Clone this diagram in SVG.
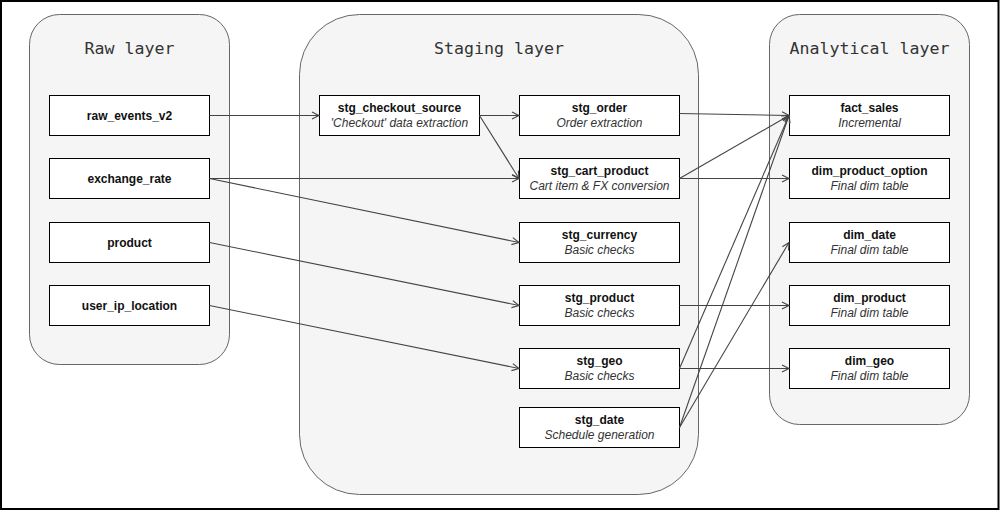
<svg xmlns="http://www.w3.org/2000/svg" width="1000" height="511" viewBox="0 0 1000 511">
<style>
.frame{fill:#fff;stroke:#000;stroke-width:2}
.layer{fill:#f5f5f5;stroke:#666;stroke-width:1}
.title{font-family:"DejaVu Sans Mono",monospace;font-size:16.6px;fill:#333;text-anchor:middle}
.box{fill:#fff;stroke:#000;stroke-width:1}
.name{font-family:"Liberation Sans",Arial,sans-serif;font-size:12px;font-weight:bold;fill:#111;text-anchor:middle}
.desc{font-family:"Liberation Sans",Arial,sans-serif;font-size:12px;font-style:italic;fill:#333;text-anchor:middle}
.edge{fill:none;stroke:#444;stroke-width:1.1;marker-end:url(#arr)}
</style>
<defs>
<marker id="arr" markerUnits="userSpaceOnUse" markerWidth="12" markerHeight="12" viewBox="-10 -6 12 12" refX="0" refY="0" orient="auto">
<path d="M-7,-3.6 L0,0 L-7,3.6" fill="none" stroke="#444" stroke-width="1.1"/>
</marker>
</defs>
<rect class="frame" x="1" y="1" width="997.5" height="508"/>
<g id="raw-layer">
<rect class="layer" x="29.5" y="14.5" width="200" height="350" rx="30" ry="30"/>
<text class="title" x="129.5" y="54">Raw layer</text>
</g>
<g id="staging-layer">
<rect class="layer" x="299.5" y="14.5" width="399" height="480" rx="60" ry="60"/>
<text class="title" x="499" y="54">Staging layer</text>
</g>
<g id="analytical-layer">
<rect class="layer" x="769.5" y="14.5" width="200" height="410" rx="30" ry="30"/>
<text class="title" x="869.5" y="54">Analytical layer</text>
</g>
<g id="raw_events_v2"><rect class="box" x="49.5" y="95.5" width="160" height="40"/><text class="name" x="129.5" y="119.5">raw_events_v2</text></g>
<g id="exchange_rate"><rect class="box" x="49.5" y="158.5" width="160" height="40"/><text class="name" x="129.5" y="182.5">exchange_rate</text></g>
<g id="product"><rect class="box" x="49.5" y="222.5" width="160" height="40"/><text class="name" x="129.5" y="246.5">product</text></g>
<g id="user_ip_location"><rect class="box" x="49.5" y="285.5" width="160" height="40"/><text class="name" x="129.5" y="309.5">user_ip_location</text></g>
<g id="stg_checkout_source"><rect class="box" x="319.5" y="95.5" width="160" height="40"/><text class="name" x="399.5" y="112">stg_checkout_source</text><text class="desc" x="399.5" y="127">'Checkout' data extraction</text></g>
<g id="stg_order"><rect class="box" x="519.5" y="95.5" width="160" height="40"/><text class="name" x="599.5" y="112">stg_order</text><text class="desc" x="599.5" y="127">Order extraction</text></g>
<g id="stg_cart_product"><rect class="box" x="519.5" y="158.5" width="160" height="40"/><text class="name" x="599.5" y="175">stg_cart_product</text><text class="desc" x="599.5" y="190">Cart item &amp; FX conversion</text></g>
<g id="stg_currency"><rect class="box" x="519.5" y="222.5" width="160" height="40"/><text class="name" x="599.5" y="239">stg_currency</text><text class="desc" x="599.5" y="254">Basic checks</text></g>
<g id="stg_product"><rect class="box" x="519.5" y="285.5" width="160" height="40"/><text class="name" x="599.5" y="302">stg_product</text><text class="desc" x="599.5" y="317">Basic checks</text></g>
<g id="stg_geo"><rect class="box" x="519.5" y="348.5" width="160" height="40"/><text class="name" x="599.5" y="365">stg_geo</text><text class="desc" x="599.5" y="380">Basic checks</text></g>
<g id="stg_date"><rect class="box" x="519.5" y="407.5" width="160" height="40"/><text class="name" x="599.5" y="424">stg_date</text><text class="desc" x="599.5" y="439">Schedule generation</text></g>
<g id="fact_sales"><rect class="box" x="789.5" y="95.5" width="160" height="40"/><text class="name" x="869.5" y="112">fact_sales</text><text class="desc" x="869.5" y="127">Incremental</text></g>
<g id="dim_product_option"><rect class="box" x="789.5" y="158.5" width="160" height="40"/><text class="name" x="869.5" y="175">dim_product_option</text><text class="desc" x="869.5" y="190">Final dim table</text></g>
<g id="dim_date"><rect class="box" x="789.5" y="222.5" width="160" height="40"/><text class="name" x="869.5" y="239">dim_date</text><text class="desc" x="869.5" y="254">Final dim table</text></g>
<g id="dim_product"><rect class="box" x="789.5" y="285.5" width="160" height="40"/><text class="name" x="869.5" y="302">dim_product</text><text class="desc" x="869.5" y="317">Final dim table</text></g>
<g id="dim_geo"><rect class="box" x="789.5" y="348.5" width="160" height="40"/><text class="name" x="869.5" y="365">dim_geo</text><text class="desc" x="869.5" y="380">Final dim table</text></g>
<g id="connectors">
<path class="edge" d="M209.5,115.5 L319,115.5"/>
<path class="edge" d="M209.5,178.5 L519,178.5"/>
<path class="edge" d="M209.5,178.5 L519,242.5"/>
<path class="edge" d="M209.5,242.5 L519,305.5"/>
<path class="edge" d="M209.5,305.5 L519,368.5"/>
<path class="edge" d="M479.5,115.5 L519,115.5"/>
<path class="edge" d="M479.5,115.5 L519,178.5"/>
<path class="edge" d="M679.5,113.5 L789,115.5"/>
<path class="edge" d="M679.5,178.5 L789,115.5"/>
<path class="edge" d="M679.5,178.5 L789,178.5"/>
<path class="edge" d="M679.5,368.5 L789,115.5"/>
<path class="edge" d="M679.5,427.5 L789,115.5"/>
<path class="edge" d="M679.5,427.5 L789,242.5"/>
<path class="edge" d="M679.5,305.5 L789,305.5"/>
<path class="edge" d="M679.5,368.5 L789,368.5"/>
</g>
</svg>
